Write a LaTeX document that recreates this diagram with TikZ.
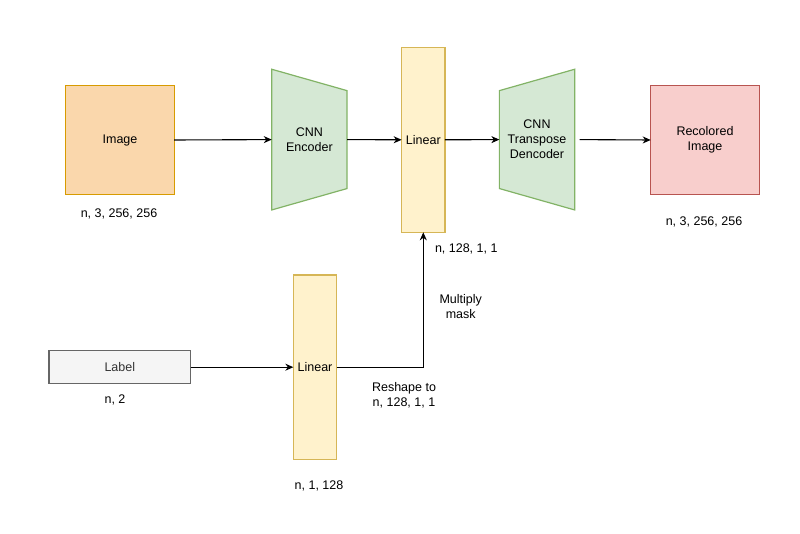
\documentclass[tikz,border=0pt]{standalone}
\usepackage{fontspec}
\setmainfont{Liberation Sans}
\usetikzlibrary{arrows.meta}
\definecolor{orfill}{HTML}{FAD7AC}
\definecolor{ordraw}{HTML}{D79B00}
\definecolor{grfill}{HTML}{D5E8D4}
\definecolor{grdraw}{HTML}{82B366}
\definecolor{yefill}{HTML}{FFF2CC}
\definecolor{yedraw}{HTML}{D6B656}
\definecolor{refill}{HTML}{F8CECC}
\definecolor{redraw}{HTML}{B85450}
\definecolor{gyfill}{HTML}{F5F5F5}
\definecolor{gydraw}{HTML}{666666}
\definecolor{gytext}{HTML}{333333}
\begin{document}
\begin{tikzpicture}[x=1pt,y=-1pt,
  every node/.style={font=\fontsize{12.5}{15}\selectfont, inner sep=0pt, outer sep=0pt, align=center},
  box/.style={draw, line width=1.2pt, minimum width=#1},
  hold/.style={minimum width=75.3pt, minimum height=140.7pt},
  lbl/.style={},
  trap/.style={fill=grfill, draw=grdraw, line width=1.2pt},
  arr/.style={draw=black, line width=1.1pt, -{Stealth[length=8pt,width=7pt,inset=2.5pt]}}
]
\useasboundingbox (0,0) rectangle (800,534);

% top row
\node[box=108.3pt, minimum height=108.3pt, fill=orfill, draw=ordraw] (img) at (120,140) {Image};
\node[lbl] (imgdim) at (119,214) {n, 3, 256, 256};

\node[hold] (enc) at (309.4,139.6) {};
\draw[trap]
  (enc.north west) -- ([yshift=-21.4pt]enc.north east) -- ([yshift=21.4pt]enc.south east) -- (enc.south west) -- cycle;
\node (enctext) at (enc) {CNN\\Encoder};

\node[box=43.3pt, minimum height=185pt, fill=yefill, draw=yedraw] (lin1) at (423.3,139.8) {Linear};
\node[lbl, anchor=west] (lin1dim) at (435,249) {n, 128, 1, 1};

\node[hold] (dec) at (537,139.6) {};
\draw[trap]
  ([yshift=-21.4pt]dec.north west) -- (dec.north east) -- (dec.south east) -- ([yshift=21.4pt]dec.south west) -- cycle;
\node (dectext) at (dec) {CNN\\Transpose\\Dencoder};

\node[box=108.6pt, minimum height=108.3pt, fill=refill, draw=redraw] (rec) at (705,140) {Recolored\\Image};
\node[lbl] (recdim) at (704,222) {n, 3, 256, 256};

% bottom row
\node[box=141.7pt, minimum height=33pt, fill=gyfill, draw=gydraw, text=gytext] (lab) at (119.8,367.2) {Label};
\node[lbl] (labdim) at (115,400) {n, 2};

\node[box=43.3pt, minimum height=184.3pt, fill=yefill, draw=yedraw] (lin2) at (315,367.2) {Linear};
\node[lbl] (lin2dim) at (319,486) {n, 1, 128};

\node[lbl] (mult) at (460.7,307) {Multiply\\mask};
\node[lbl] (resh) at (404,395) {Reshape to\\n, 128, 1, 1};

% connectors
\draw[arr] (img.east) -- (enc.west);
\draw[arr] (enc.east) -- (lin1.west);
\draw[arr] (lin1.east) -- (dec.west);
\draw[arr] ([xshift=5pt]dec.east) -- (rec.west);
\draw[arr] (lab.east) -- (lin2.west);
\draw[arr] (lin2.east) -| (lin1.south);
\end{tikzpicture}
\end{document}
